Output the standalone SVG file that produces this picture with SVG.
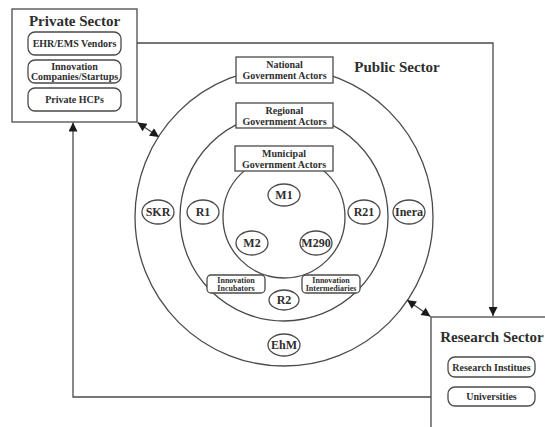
<svg xmlns="http://www.w3.org/2000/svg" width="545" height="427" viewBox="0 0 545 427">
<style>
  .ln{fill:none;stroke:#4a4a4a;stroke-width:1.3}
  .box{fill:#fff;stroke:#4a4a4a;stroke-width:1.3}
  .t{font-family:"Liberation Serif","Times New Roman",serif;font-weight:bold;fill:#2e2e2e;text-anchor:middle}
  .title{font-size:15px}
  .lbl{font-size:10px}
  .sm{font-size:8px}
  .el{font-size:12px}
</style>
<defs>
  <marker id="ah" viewBox="0 0 10 10" refX="10" refY="5" markerUnits="userSpaceOnUse" markerWidth="10" markerHeight="9" orient="auto-start-reverse">
    <path d="M0,0 L10,5 L0,10 z" fill="#1a1a1a"/>
  </marker>
</defs>
<rect width="545" height="427" fill="#fff"/>

<g id="public-sector">
  <circle class="ln" cx="284" cy="217" r="149"/>
  <circle class="ln" cx="284" cy="217" r="104"/>
  <circle class="ln" cx="284" cy="217" r="61"/>
  <text class="t title" x="397" y="72">Public Sector</text>
</g>

<g id="national">
  <rect class="box" x="236" y="57" width="97" height="26"/>
  <text class="t lbl" x="284.5" y="68">National</text>
  <text class="t lbl" x="284.5" y="79">Government Actors</text>
</g>
<g id="regional">
  <rect class="box" x="236" y="103" width="97" height="25"/>
  <text class="t lbl" x="284.5" y="114">Regional</text>
  <text class="t lbl" x="284.5" y="125">Government Actors</text>
</g>
<g id="municipal">
  <rect class="box" x="235" y="146" width="98" height="25"/>
  <text class="t lbl" x="284" y="157">Municipal</text>
  <text class="t lbl" x="284" y="168">Government Actors</text>
</g>

<g id="M1"><ellipse class="box" cx="284" cy="195" rx="16" ry="11"/><text class="t el" x="284" y="199">M1</text></g>
<g id="SKR"><ellipse class="box" cx="158" cy="212" rx="16" ry="12"/><text class="t el" x="158" y="216">SKR</text></g>
<g id="R1"><ellipse class="box" cx="203" cy="212" rx="16" ry="12"/><text class="t el" x="203" y="216">R1</text></g>
<g id="R21"><ellipse class="box" cx="364" cy="212" rx="16" ry="12"/><text class="t el" x="364" y="216">R21</text></g>
<g id="Inera"><ellipse class="box" cx="409" cy="212" rx="16" ry="12"/><text class="t el" x="409" y="216">Inera</text></g>
<g id="M2"><ellipse class="box" cx="252" cy="243" rx="16" ry="12"/><text class="t el" x="252" y="247">M2</text></g>
<g id="M290"><ellipse class="box" cx="316" cy="243" rx="16" ry="12"/><text class="t el" x="316" y="247">M290</text></g>
<g id="incubators">
  <rect class="box" x="207" y="275" width="58" height="18" rx="4"/>
  <text class="t sm" x="236" y="282.5">Innovation</text>
  <text class="t sm" x="236" y="290.5">Incubators</text>
</g>
<g id="intermediaries">
  <rect class="box" x="302" y="275" width="58" height="18" rx="4"/>
  <text class="t sm" x="331" y="282.5">Innovation</text>
  <text class="t sm" x="331" y="290.5">Intermediaries</text>
</g>
<g id="R2"><ellipse class="box" cx="284" cy="300" rx="15" ry="10"/><text class="t el" x="284" y="304">R2</text></g>
<g id="EhM"><ellipse class="box" cx="284" cy="345" rx="16" ry="11"/><text class="t el" x="284" y="349">EhM</text></g>

<g id="private-sector">
  <rect class="box" x="12" y="9" width="125" height="113"/>
  <text class="t title" x="74.5" y="26">Private Sector</text>
  <rect class="box" x="28" y="32" width="93" height="23" rx="7"/>
  <text class="t lbl" x="74.5" y="47">EHR/EMS Vendors</text>
  <rect class="box" x="28" y="60" width="93" height="23" rx="7"/>
  <text class="t lbl" x="74.5" y="69.5">Innovation</text>
  <text class="t lbl" x="74.5" y="79.5">Companies/Startups</text>
  <rect class="box" x="28" y="88" width="93" height="23" rx="7"/>
  <text class="t lbl" x="74.5" y="103">Private HCPs</text>
</g>

<g id="research-sector">
  <rect class="box" x="431" y="317" width="130" height="130"/>
  <text class="t title" x="492" y="342">Research Sector</text>
  <rect class="box" x="448" y="357" width="87" height="20" rx="7"/>
  <text class="t lbl" x="491.5" y="370.5">Research Institues</text>
  <rect class="box" x="448" y="387" width="87" height="19" rx="7"/>
  <text class="t lbl" x="491.5" y="400">Universities</text>
</g>

<g id="connectors">
  <polyline class="ln" points="137,43 493,43 493,316" marker-end="url(#ah)"/>
  <polyline class="ln" points="431,397 73,397 73,122.5" marker-end="url(#ah)"/>
  <line class="ln" x1="137.5" y1="122.5" x2="159" y2="137" marker-start="url(#ah)" marker-end="url(#ah)"/>
  <line class="ln" x1="407" y1="300" x2="430.5" y2="316.5" marker-start="url(#ah)" marker-end="url(#ah)"/>
</g>
</svg>
